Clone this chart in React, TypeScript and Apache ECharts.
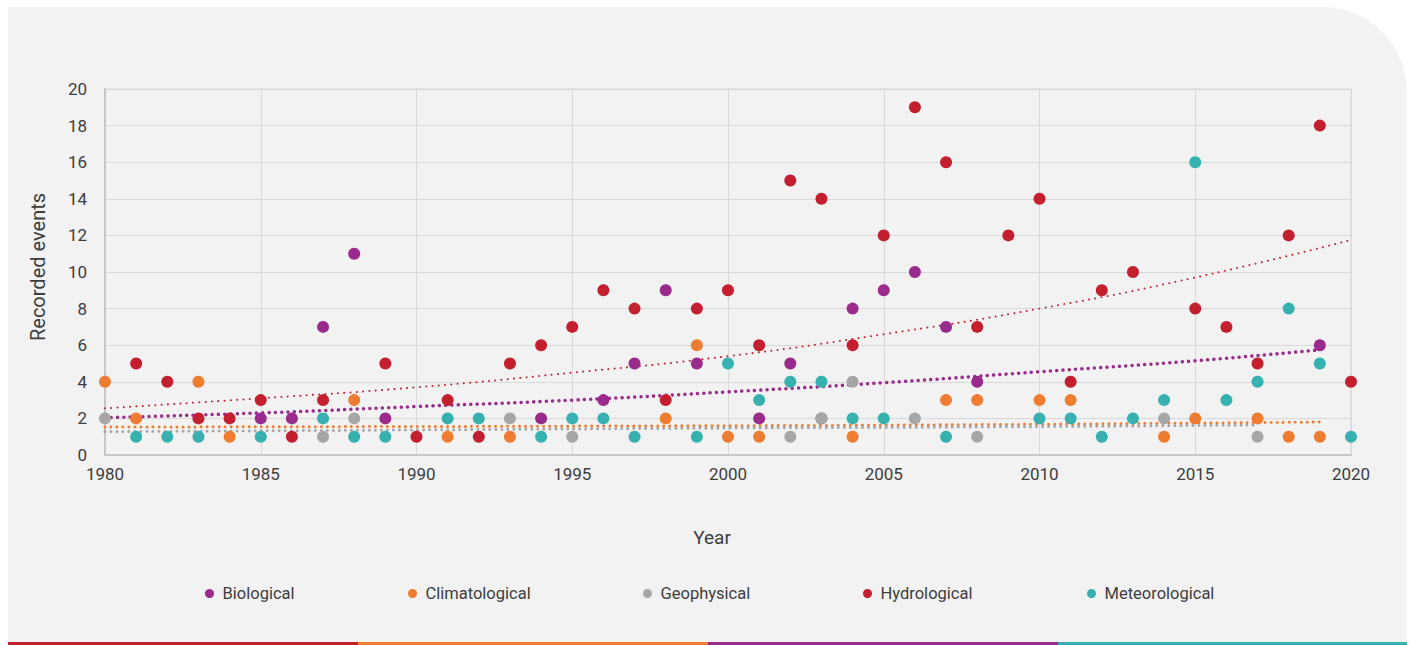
import React, { useEffect, useRef } from "react";
import * as echarts from "echarts";

// Recorded events per year, [year, count]
const biological: number[][] = [
  [1985, 2], [1986, 2], [1987, 7], [1988, 11], [1989, 2], [1994, 2], [1996, 3], [1997, 5],
  [1998, 9], [1999, 5], [2001, 2], [2002, 5], [2003, 2], [2004, 8], [2005, 9], [2006, 10],
  [2007, 7], [2008, 4], [2019, 6],
];
const climatological: number[][] = [
  [1980, 4], [1981, 2], [1983, 4], [1984, 1], [1988, 3], [1991, 1], [1993, 1], [1998, 2],
  [1999, 6], [2000, 1], [2001, 1], [2004, 1], [2007, 3], [2008, 3], [2010, 3], [2011, 3],
  [2014, 1], [2015, 2], [2017, 2], [2018, 1], [2019, 1],
];
const geophysical: number[][] = [
  [1980, 2], [1987, 1], [1988, 2], [1993, 2], [1995, 1], [2002, 1], [2003, 2], [2004, 4],
  [2006, 2], [2008, 1], [2014, 2], [2017, 1],
];
const hydrological: number[][] = [
  [1981, 5], [1982, 4], [1983, 2], [1984, 2], [1985, 3], [1986, 1], [1987, 3], [1989, 5],
  [1990, 1], [1991, 3], [1992, 1], [1993, 5], [1994, 6], [1995, 7], [1996, 9], [1997, 8],
  [1998, 3], [1999, 8], [2000, 9], [2001, 6], [2002, 15], [2003, 14], [2004, 6], [2005, 12],
  [2006, 19], [2007, 16], [2008, 7], [2009, 12], [2010, 14], [2011, 4], [2012, 9], [2013, 10],
  [2015, 8], [2016, 7], [2017, 5], [2018, 12], [2019, 18], [2020, 4],
];
const meteorological: number[][] = [
  [1981, 1], [1982, 1], [1983, 1], [1985, 1], [1987, 2], [1988, 1], [1989, 1], [1991, 2],
  [1992, 2], [1994, 1], [1995, 2], [1996, 2], [1997, 1], [1999, 1], [2000, 5], [2001, 3],
  [2002, 4], [2003, 4], [2004, 2], [2005, 2], [2007, 1], [2010, 2], [2011, 2], [2012, 1],
  [2013, 2], [2014, 3], [2015, 16], [2016, 3], [2017, 4], [2018, 8], [2019, 5], [2020, 1],
];

// Trend lines
const hydroTrend: number[][] = [
  [1980, 2.55], [1985, 3.1], [1990, 3.7], [1995, 4.5], [2000, 5.4], [2005, 6.6], [2010, 8.0],
  [2015, 9.7], [2020, 11.75],
];
const bioTrend: number[][] = [
  [1980, 2.04], [1985, 2.3], [1990, 2.65], [1995, 3.0], [2000, 3.45], [2005, 3.95],
  [2010, 4.55], [2015, 5.15], [2019, 5.75],
];
const climTrend: number[][] = [[1980, 1.53], [2000, 1.6], [2010, 1.68], [2019, 1.8]];
const geoTrend: number[][] = [[1980, 1.27], [1990, 1.37], [2000, 1.47], [2010, 1.55], [2017, 1.64]];

const seriesNames = ["Biological", "Climatological", "Geophysical", "Hydrological", "Meteorological"];
const seriesColors = ["#9a2a8b", "#ef7d31", "#a6a6a6", "#c41f2f", "#37b0b0"];
const legendLefts = [200, 403, 638, 858, 1082];

const FONT = "Roboto, 'Noto Sans', sans-serif";
const TEXT = "#3d3d3d";

export default function App() {
  const ref = useRef<HTMLDivElement>(null);
  useEffect(() => {
    if (!ref.current) return;
    const chart = echarts.init(ref.current, null, { renderer: "svg" });
    const pointData = [biological, climatological, geophysical, hydrological, meteorological];
    const scatter = seriesNames.map((name, i) => ({
      name,
      type: "scatter",
      data: pointData[i],
      symbolSize: 12,
      itemStyle: { color: seriesColors[i], opacity: 1 },
      z: 5,
    }));
    const trend = (data: number[][], color: string, width: number, period: number) => ({
      type: "line",
      data,
      smooth: true,
      showSymbol: false,
      symbol: "none",
      silent: true,
      lineStyle: { color, width, type: [0.01, period], cap: "round" },
      z: 3,
    });
    const option: any = {
      animation: false,
      backgroundColor: "transparent",
      textStyle: { fontFamily: FONT },
      graphic: [
        {
          type: "rect",
          z: -10,
          silent: true,
          shape: { x: 8, y: 7, width: 1399, height: 638, r: [0, 85, 0, 0] },
          style: { fill: "#f2f2f2" },
        },
        { type: "rect", z: -9, shape: { x: 8, y: 642, width: 350, height: 3 }, style: { fill: "#c41f2f" } },
        { type: "rect", z: -9, shape: { x: 358, y: 642, width: 350, height: 3 }, style: { fill: "#ef7d31" } },
        { type: "rect", z: -9, shape: { x: 708, y: 642, width: 350, height: 3 }, style: { fill: "#952a8b" } },
        { type: "rect", z: -9, shape: { x: 1058, y: 642, width: 349, height: 3 }, style: { fill: "#37b0b0" } },
      ],
      grid: {
        left: 105,
        right: 59,
        top: 89,
        bottom: 190,
        show: true,
        borderColor: "#d9d9d9",
        borderWidth: 1,
        backgroundColor: "transparent",
      },
      legend: seriesNames.map((n, i) => ({
        data: [n],
        left: legendLefts[i],
        top: 580,
        icon: "circle",
        itemWidth: 16,
        itemHeight: 9,
        textStyle: { fontFamily: FONT, fontSize: 16.5, color: TEXT },
        selectedMode: false,
      })),
      xAxis: {
        type: "value",
        min: 1980,
        max: 2020,
        interval: 5,
        name: "Year",
        nameLocation: "middle",
        nameGap: 73,
        nameTextStyle: { fontFamily: FONT, fontSize: 19, color: TEXT, padding: [0, 32, 0, 0] },
        axisLine: { show: true, onZero: false, lineStyle: { color: "#c6c6c6", width: 2 } },
        axisTick: { show: false },
        axisLabel: {
          fontFamily: FONT,
          fontSize: 17,
          color: TEXT,
          margin: 10,
          formatter: (v: number) => String(v),
        },
        splitLine: { show: true, lineStyle: { color: "#d9d9d9", width: 1 } },
      },
      yAxis: {
        type: "value",
        min: 0,
        max: 20,
        interval: 2,
        name: "Recorded events",
        nameLocation: "middle",
        nameGap: 57,
        nameTextStyle: { fontFamily: FONT, fontSize: 20, color: TEXT, padding: [0, 0, 0, 10] },
        axisLine: { show: true, lineStyle: { color: "#c6c6c6", width: 2 } },
        axisTick: { show: false },
        axisLabel: { fontFamily: FONT, fontSize: 17, color: TEXT, margin: 18 },
        splitLine: { show: true, lineStyle: { color: "#d9d9d9", width: 1 } },
      },
      series: [
        trend(hydroTrend, seriesColors[3], 2, 6.3),
        trend(bioTrend, seriesColors[0], 3.5, 6.3),
        trend(climTrend, seriesColors[1], 3, 6),
        trend(geoTrend, seriesColors[2], 3, 6),
        ...scatter,
      ],
    };
    chart.setOption(option);
    return () => chart.dispose();
  }, []);
  return (
    <div
      ref={ref}
      style={{ position: "absolute", left: 0, top: 0, width: 1410, height: 645, background: "#ffffff" }}
    />
  );
}
